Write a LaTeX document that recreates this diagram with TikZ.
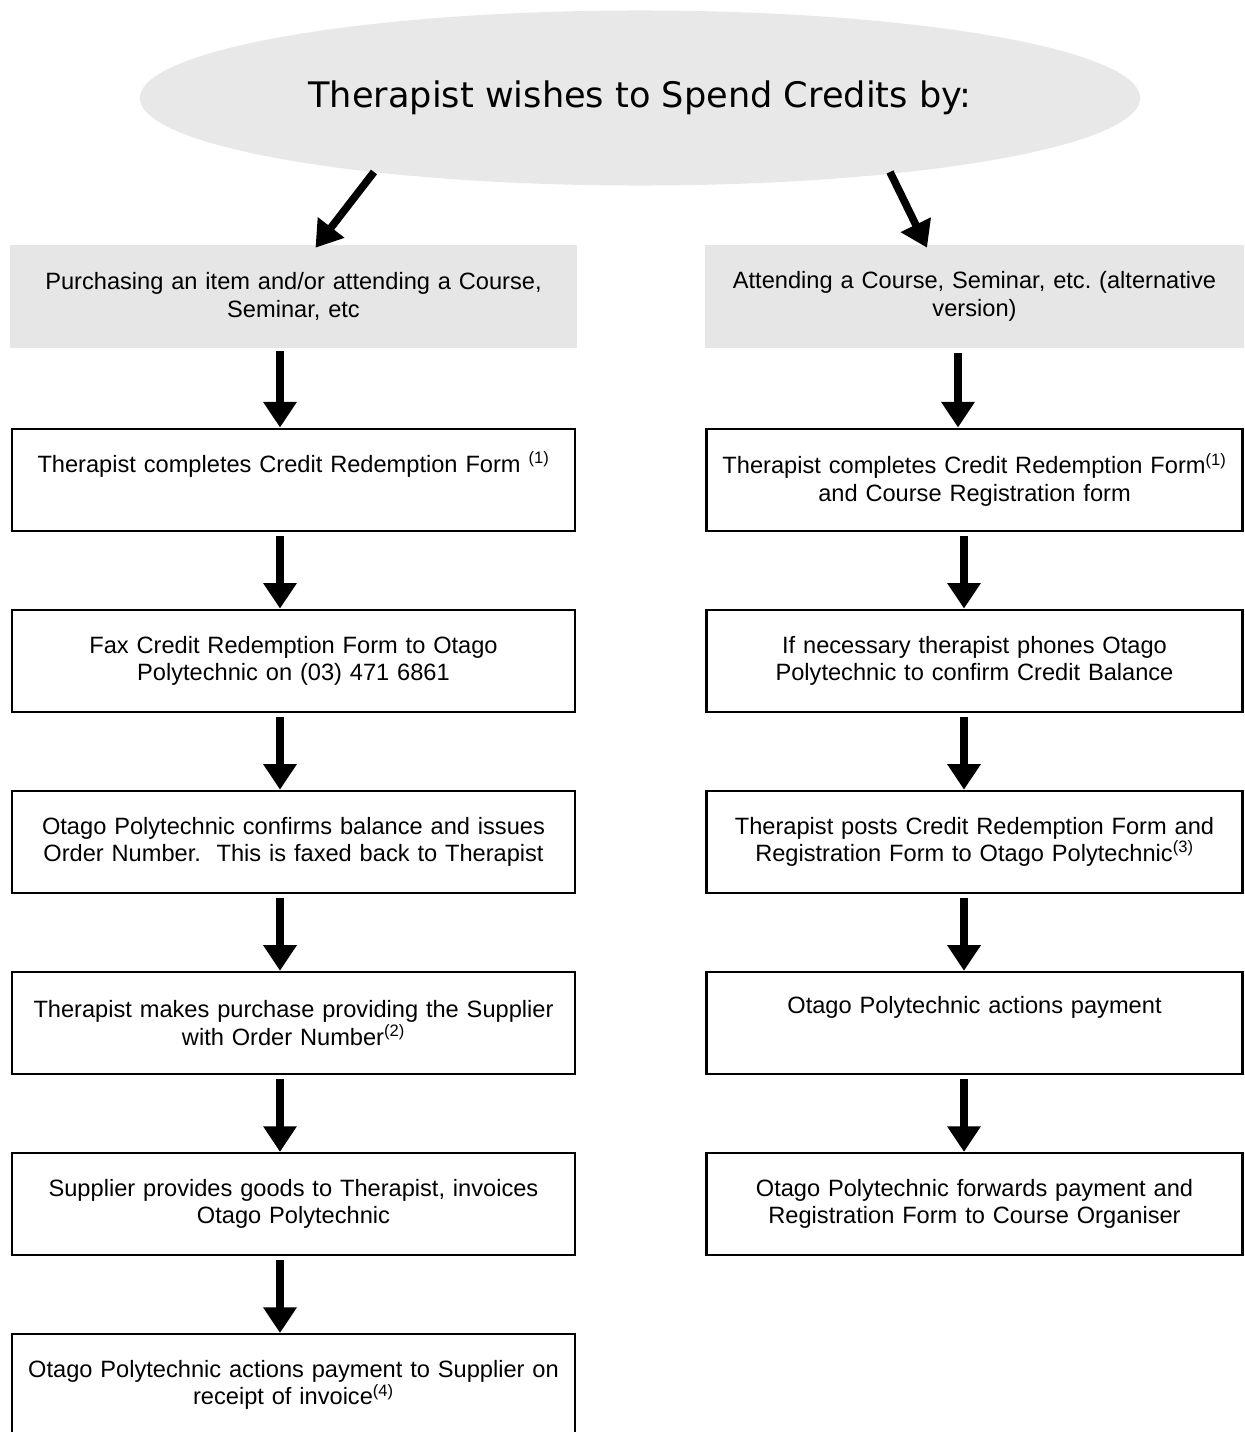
\documentclass[tikz,border=0pt]{standalone}
\usepackage{fontspec}
\setmainfont{Liberation Sans}
\newfontfamily\titlefont{DejaVu Sans}
\usepackage{tikz}
\usetikzlibrary{shapes.geometric, arrows.meta, positioning}
\definecolor{panelgray}{HTML}{E6E6E6}
\definecolor{ovalgray}{HTML}{E8E8E8}
\frenchspacing

\begin{document}
\begin{tikzpicture}[
  x=0.025cm, y=-0.025cm,
  node distance=1.92cm,
  oval/.style={ellipse, fill=ovalgray, minimum width=25cm, minimum height=4.375cm, inner sep=0pt, font=\titlefont\fontsize{25}{30}\selectfont},
  routebox/.style={rectangle, fill=panelgray, minimum width=#1, minimum height=2.575cm, text width=13cm, align=center, inner sep=0pt, font=\fontsize{16.8}{19.5}\selectfont},
  stepbox/.style={rectangle, draw=black, line width=1.6pt, fill=white, minimum width=#1, minimum height=2.55cm, text width=13.8cm, align=center, inner sep=0pt, font=\fontsize{16.8}{19.5}\selectfont},
  rightbox/.style={stepbox=13.4cm, text width=13cm},
  arrow/.style={-{Triangle[length=0.64cm, width=0.8cm]}, line width=0.19cm, color=black}
]
  \useasboundingbox (0,0) rectangle (1244,1432);

  % Title
  \node[oval] (title) at (640,98) {Therapist wishes to Spend Credits by:};

  % Left column
  \node[routebox=14.17cm] (g1) at (293.5,296.5) {Purchasing an item and/or attending a Course,\\ Seminar, etc};
  \node[stepbox=14.08cm, below=1.98cm of g1] (b1) {Therapist completes Credit Redemption Form \textsuperscript{(1)}\\ \strut};
  \node[stepbox=14.08cm, below=of b1] (b2) {Fax Credit Redemption Form to Otago\\ Polytechnic on (03) 471 6861};
  \node[stepbox=14.08cm, below=of b2] (b3) {Otago Polytechnic confirms balance and issues\\ Order Number.\ \ This is faxed back to Therapist};
  \node[stepbox=14.08cm, below=of b3] (b4) {Therapist makes purchase providing the Supplier\\ with Order Number\textsuperscript{(2)}};
  \node[stepbox=14.08cm, below=of b4] (b5) {Supplier provides goods to Therapist, invoices\\ Otago Polytechnic};
  \node[stepbox=14.08cm, below=of b5] (b6) {Otago Polytechnic actions payment to Supplier on\\ receipt of invoice\textsuperscript{(4)}};

  % Right column
  \node[routebox=13.475cm] (g2) at (974.5,296.5) {Attending a Course, Seminar, etc. (alternative\\ version)};
  \node[rightbox, below=1.98cm of g2] (r1) {Therapist completes Credit Redemption Form\textsuperscript{(1)}\\ and Course Registration form};
  \node[rightbox, below=of r1] (r2) {If necessary therapist phones Otago\\ Polytechnic to confirm Credit Balance};
  \node[rightbox, below=of r2] (r3) {Therapist posts Credit Redemption Form and\\ Registration Form to Otago Polytechnic\textsuperscript{(3)}};
  \node[rightbox, below=of r3] (r4) {Otago Polytechnic actions payment\\ \strut};
  \node[rightbox, below=of r4] (r5) {Otago Polytechnic forwards payment and\\ Registration Form to Course Organiser};

  % Arrows from title
  \draw[arrow] ([shift={(-266,74)}]title.center) -- ([shift={(22,3)}]g1.north);
  \draw[arrow] ([shift={(250,74)}]title.center) -- ([shift={(-47.5,3)}]g2.north);

  % Arrows, left column
  \draw[arrow] ([shift={(-13.5,3)}]g1.south) -- ([shift={(-13.5,0)}]b1.north);
  \draw[arrow] ([shift={(-13.5,4)}]b1.south) -- ([shift={(-13.5,0)}]b2.north);
  \draw[arrow] ([shift={(-13.5,4)}]b2.south) -- ([shift={(-13.5,0)}]b3.north);
  \draw[arrow] ([shift={(-13.5,4)}]b3.south) -- ([shift={(-13.5,0)}]b4.north);
  \draw[arrow] ([shift={(-13.5,4)}]b4.south) -- ([shift={(-13.5,0)}]b5.north);
  \draw[arrow] ([shift={(-13.5,4)}]b5.south) -- ([shift={(-13.5,0)}]b6.north);

  % Arrows, right column
  \draw[arrow] ([shift={(-16.5,5)}]g2.south) -- ([shift={(-16.5,0)}]r1.north);
  \draw[arrow] ([shift={(-10.5,4)}]r1.south) -- ([shift={(-10.5,0)}]r2.north);
  \draw[arrow] ([shift={(-10.5,4)}]r2.south) -- ([shift={(-10.5,0)}]r3.north);
  \draw[arrow] ([shift={(-10.5,4)}]r3.south) -- ([shift={(-10.5,0)}]r4.north);
  \draw[arrow] ([shift={(-10.5,4)}]r4.south) -- ([shift={(-10.5,0)}]r5.north);
\end{tikzpicture}
\end{document}
